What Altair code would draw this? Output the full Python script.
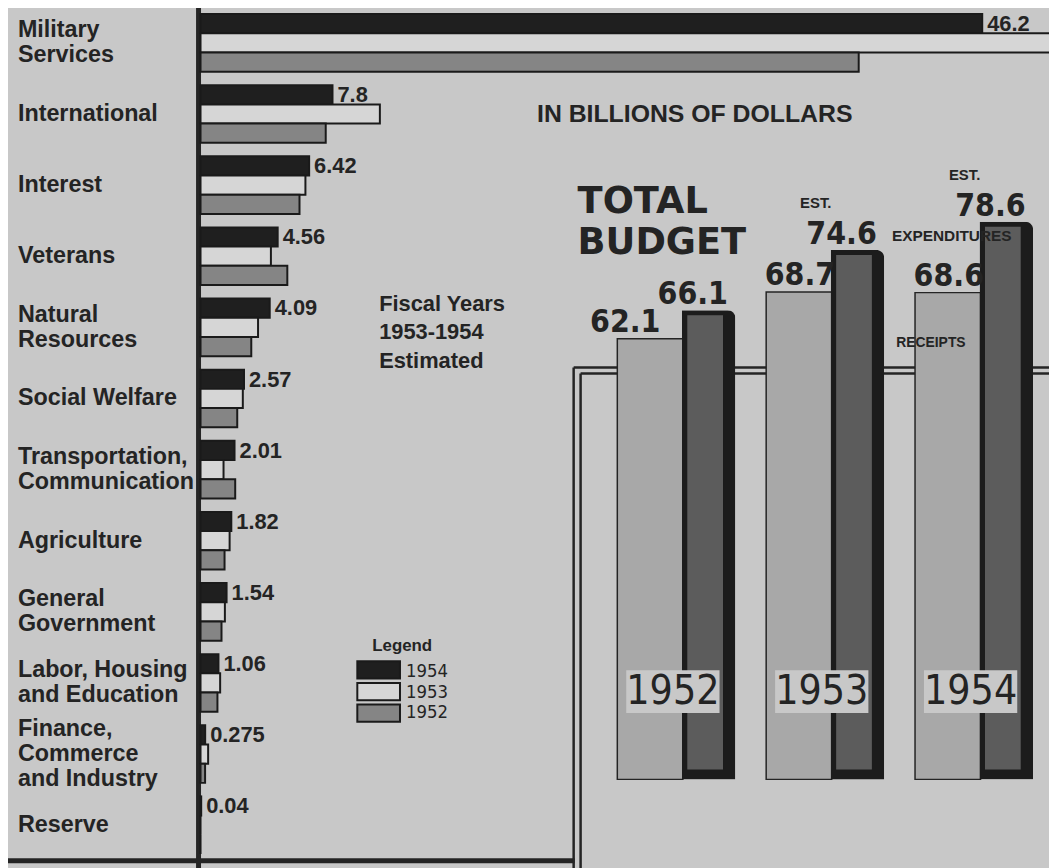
import altair as alt
import pandas as pd

# ---------------- data ----------------
categories = ["Military\nServices", "International", "Interest", "Veterans",
              "Natural\nResources", "Social Welfare", "Transportation,\nCommunication",
              "Agriculture", "General\nGovernment", "Labor, Housing\nand Education",
              "Finance,\nCommerce\nand Industry", "Reserve"]
series = ["1954", "1953", "1952"]
v1954 = [46.2, 7.8, 6.42, 4.56, 4.09, 2.57, 2.01, 1.82, 1.54, 1.06, 0.275, 0.04]
v1953 = [51.0, 10.6, 6.2, 4.16, 3.4, 2.5, 1.36, 1.72, 1.44, 1.16, 0.45, 0.0]
v1952 = [38.9, 7.4, 5.85, 5.13, 3.0, 2.17, 2.05, 1.42, 1.24, 1.0, 0.27, 0.0]
labels1954 = ["46.2", "7.8", "6.42", "4.56", "4.09", "2.57", "2.01", "1.82",
              "1.54", "1.06", "0.275", "0.04"]

years = ["1952", "1953", "1954"]
receipts = [62.1, 68.7, 68.6]
expenditures = [66.1, 74.6, 78.6]
receipt_labels = ["62.1", "68.7", "68.6"]
expenditure_labels = ["66.1", "74.6", "78.6"]
est_flags = ["", "EST.", "EST."]

# ---------------- styling ----------------
PAPER = "#c8c8c8"
INK = "#242424"
BOLD = "Liberation Sans"
NARROW = "DejaVu Sans Condensed, sans-serif"
LH = 25

rows = []
for s, vals in zip(series, [v1954, v1953, v1952]):
    for c, v in zip(categories, vals):
        rows.append({"cat": c, "series": s, "value": v})
left_df = pd.DataFrame(rows)
lab_df = pd.DataFrame({"cat": categories, "series": "1954", "value": v1954, "label": labels1954})
cat_df = pd.DataFrame({"cat": categories, "nlines": [c.count("\n") + 1 for c in categories]})
right_df = pd.DataFrame({"year": years, "receipts": receipts, "expenditures": expenditures,
                         "rl": receipt_labels, "el": expenditure_labels, "est": est_flags})
leg_df = pd.DataFrame({"series": series})
one = pd.DataFrame({"k": [0]})

xL = alt.Scale(domain=[0, 50], range=[194, 1046.5])
yL = alt.Scale(domain=categories, range=[-4, 856], paddingInner=0.19, paddingOuter=0.095)
yOff = alt.Scale(domain=series, paddingInner=0, paddingOuter=0)
col = alt.Scale(domain=series, range=["#1f1f1f", "#d6d6d6", "#858585"])

xR = alt.Scale(type="point", domain=years, range=[647, 947], padding=0)
yR = alt.Scale(domain=[0, 100], range=[774, 59])

# ---------------- left panel ----------------
bars = alt.Chart(left_df).mark_bar(stroke="#1a1a1a", strokeWidth=2).encode(
    x=alt.X("value:Q", scale=xL, axis=None),
    y=alt.Y("cat:N", scale=yL, axis=None),
    yOffset=alt.YOffset("series:N", scale=yOff),
    color=alt.Color("series:N", scale=col, legend=None),
)

cat_label_layers = []
for n in [1, 2, 3]:
    cat_label_layers.append(
        alt.Chart(cat_df).transform_filter(alt.datum.nlines == n).mark_text(
            align="left", baseline="middle", lineBreak="\n", lineHeight=LH,
            dy=-(n - 1) * LH / 2,
            font=BOLD, fontSize=23.5, fontWeight="bold", color=INK
        ).encode(x=alt.value(10), y=alt.Y("cat:N", scale=yL, axis=None), text="cat:N")
    )

val_labels = alt.Chart(lab_df).mark_text(
    align="left", baseline="middle", dx=5, dy=10, font=BOLD, fontSize=22, fontWeight="bold", color=INK
).encode(
    x=alt.X("value:Q", scale=xL, axis=None),
    y=alt.Y("cat:N", scale=yL, axis=None),
    yOffset=alt.YOffset("series:N", scale=yOff),
    text="label:N",
)
axis_rule = alt.Chart(one).mark_rule(strokeWidth=5, color=INK).encode(
    x=alt.value(192), y=alt.value(-10), y2=alt.value(870))
bottom_rule = alt.Chart(one).mark_rule(strokeWidth=5, color=INK).encode(
    x=alt.value(-10), x2=alt.value(571), y=alt.value(856))

# ---------------- right panel frame ----------------
frame = [
    alt.Chart(one).mark_rule(strokeWidth=2.5, color=INK).encode(
        x=alt.value(570), y=alt.value(359), y2=alt.value(870)),
    alt.Chart(one).mark_rule(strokeWidth=2.5, color=INK).encode(
        x=alt.value(577), y=alt.value(365), y2=alt.value(870)),
    alt.Chart(one).mark_rule(strokeWidth=2.5, color=INK).encode(
        x=alt.value(570), x2=alt.value(1060), y=alt.value(359)),
    alt.Chart(one).mark_rule(strokeWidth=2.5, color=INK).encode(
        x=alt.value(577), x2=alt.value(1060), y=alt.value(365)),
]

# ---------------- right panel bars ----------------
base_r = alt.Chart(right_df)
rec_bars = base_r.mark_bar(width=66, color="#a8a8a8", stroke=INK, strokeWidth=1.5).encode(
    x=alt.X("year:O", scale=xR, axis=None), y=alt.Y("receipts:Q", scale=yR, axis=None))
exp_bars = base_r.mark_bar(width=54, xOffset=59, color="#1c1c1c", cornerRadiusTopRight=8).encode(
    x=alt.X("year:O", scale=xR, axis=None), y=alt.Y("expenditures:Q", scale=yR, axis=None))
exp_pat = base_r.mark_bar(width=36, xOffset=55.5, yOffset=5, color="#5c5c5c").encode(
    x=alt.X("year:O", scale=xR, axis=None), y=alt.Y("expenditures:Q", scale=yR, axis=None),
    y2=alt.datum(1.4))
year_box = base_r.mark_bar(width=94, xOffset=23, color=PAPER).encode(
    x=alt.X("year:O", scale=xR, axis=None), y=alt.value(664), y2=alt.value(707))
year_txt = base_r.mark_text(dx=23, baseline="middle", font=NARROW, fontSize=41, color=INK).encode(
    x=alt.X("year:O", scale=xR, axis=None), y=alt.value(686), text="year:N")

rec_lab_a = base_r.transform_filter(alt.datum.year == "1952").mark_text(
    dx=-25, dy=-7, baseline="alphabetic", font=NARROW, fontSize=32, fontWeight="bold", color=INK
).encode(x=alt.X("year:O", scale=xR, axis=None), y=alt.Y("receipts:Q", scale=yR, axis=None), text="rl:N")
rec_lab_b = base_r.transform_filter(alt.datum.year != "1952").mark_text(
    dx=1, dy=-7, baseline="alphabetic", font=NARROW, fontSize=32, fontWeight="bold", color=INK
).encode(x=alt.X("year:O", scale=xR, axis=None), y=alt.Y("receipts:Q", scale=yR, axis=None), text="rl:N")
exp_lab = base_r.mark_text(
    dx=43, dy=-6, baseline="alphabetic", font=NARROW, fontSize=32, fontWeight="bold", color=INK
).encode(x=alt.X("year:O", scale=xR, axis=None), y=alt.Y("expenditures:Q", scale=yR, axis=None), text="el:N")
est_lab = base_r.mark_text(
    dx=17, dy=-42, baseline="alphabetic", font=BOLD, fontSize=15, fontWeight="bold", color=INK
).encode(x=alt.X("year:O", scale=xR, axis=None), y=alt.Y("expenditures:Q", scale=yR, axis=None), text="est:N")


def note(text, x, y, size, font=BOLD, weight="bold", align="left", baseline="alphabetic", lh=None):
    kw = dict(align=align, baseline=baseline, font=font, fontSize=size, fontWeight=weight,
              color=INK, lineBreak="\n")
    if lh is not None:
        kw["lineHeight"] = lh
    return alt.Chart(pd.DataFrame({"t": [text]})).mark_text(**kw).encode(
        x=alt.value(x), y=alt.value(y), text="t:N")


notes = [
    note("IN BILLIONS OF DOLLARS", 692, 112, 25, align="center"),
    note("TOTAL", 574, 203, 37, font="DejaVu Sans"),
    note("BUDGET", 574, 245, 37, font="DejaVu Sans"),
    note("EXPENDITURES", 951, 231, 15.5, align="center"),
    note("RECEIPTS", 930, 338, 14, align="center"),
    note("Fiscal Years\n1953-1954\nEstimated", 374, 302, 22, lh=28.5),
    note("Legend", 367, 645, 17),
]

# ---------------- legend ----------------
legY = alt.Scale(domain=series, range=[655, 716], paddingInner=0.2, paddingOuter=0)
leg_sw = alt.Chart(leg_df).mark_bar(stroke="#1a1a1a", strokeWidth=2).encode(
    x=alt.value(352), x2=alt.value(395),
    y=alt.Y("series:N", scale=legY, axis=None),
    color=alt.Color("series:N", scale=col, legend=None))
leg_tx = alt.Chart(leg_df).mark_text(
    align="left", baseline="middle", font=NARROW, fontSize=18.5, color=INK
).encode(x=alt.value(401), y=alt.Y("series:N", scale=legY, axis=None), text="series:N")

layers = ([axis_rule, bottom_rule] + frame +
          [bars] + cat_label_layers + [val_labels,
           rec_bars, exp_bars, exp_pat, year_box, year_txt,
           rec_lab_a, rec_lab_b, exp_lab, est_lab,
           leg_sw, leg_tx] + notes)

chart = alt.layer(*layers).resolve_scale(
    x="independent", y="independent", yOffset="independent"
).properties(
    width=1049, height=860, background=PAPER, padding=0,
    autosize=alt.AutoSizeParams(type="none"),
).configure_view(stroke="transparent")

chart.save("out.html", embed_options={"renderer": "svg", "actions": False})
